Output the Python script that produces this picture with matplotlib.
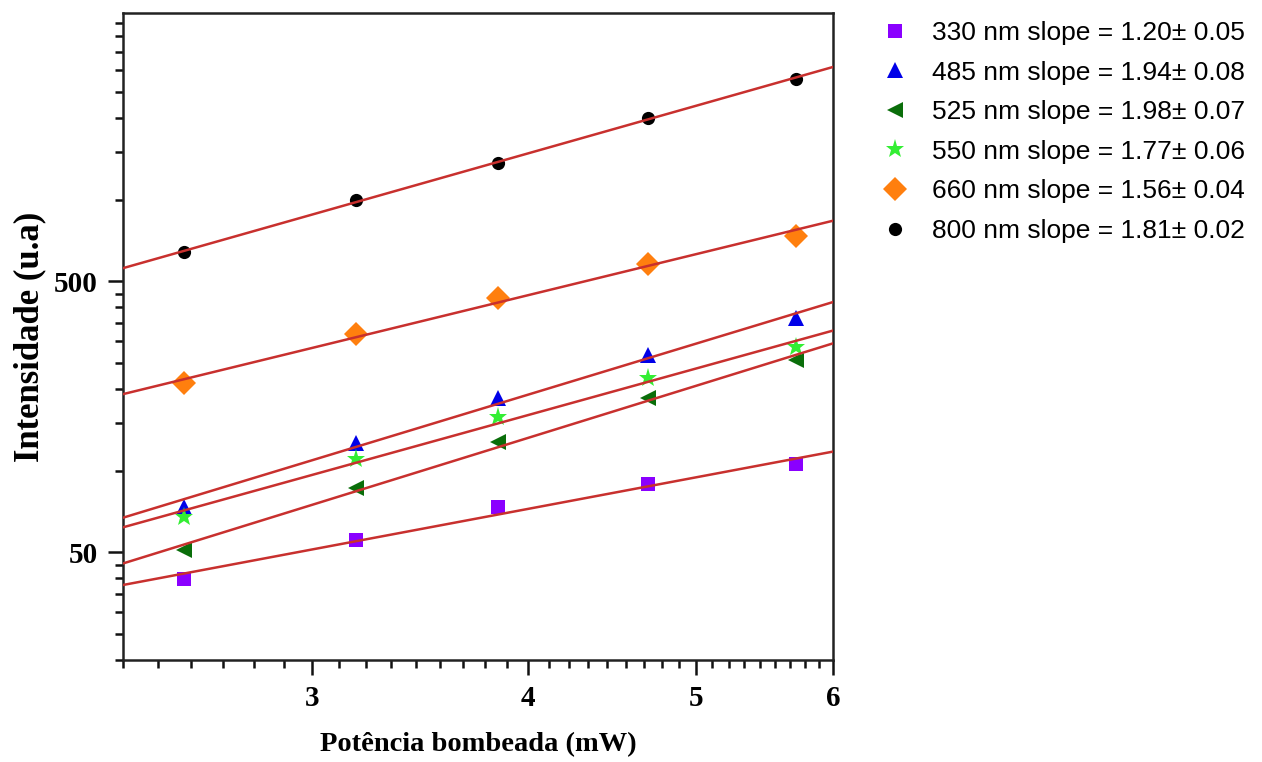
import numpy as np
import matplotlib
matplotlib.use("Agg")
import matplotlib.pyplot as plt
from matplotlib.ticker import FixedLocator, FixedFormatter, NullFormatter

# Pump power (mW) at each measurement
power = [2.53, 3.18, 3.84, 4.69, 5.71]

# Emission intensity (a.u.) for each band
i_330 = [39.8, 55.4, 73.5, 89.1, 105.4]
i_485 = [73.3, 126.0, 185.0, 267.0, 365.0]
i_525 = [50.9, 85.9, 127.6, 184.6, 255.6]
i_550 = [67.3, 110.0, 157.0, 219.0, 285.0]
i_660 = [210.0, 319.0, 434.0, 578.0, 735.0]
i_800 = [640.0, 995.0, 1366.0, 2003.0, 2780.0]

# Fitted slopes and their uncertainties
slopes = [1.20, 1.94, 1.98, 1.77, 1.56, 1.81]
slope_err = [0.05, 0.08, 0.07, 0.06, 0.04, 0.02]
bands = ["330", "485", "525", "550", "660", "800"]

series = [i_330, i_485, i_525, i_550, i_660, i_800]
colors = ["#8a00ff", "#0000e8", "#0a6e0a", "#33ee33", "#ff7f0e", "#000000"]
markers = ["s", "^", "<", "*", "D", "o"]
msizes = [9.5, 12, 12, 14, 12.5, 9.5]

fig = plt.figure(figsize=(12.62, 7.62), dpi=100)
ax = fig.add_axes([123 / 1262, 1 - 660 / 762, 710 / 1262, 647 / 762])
ax.set_xscale("log")
ax.set_yscale("log")
xmin, xmax = 7 / 3, 6.0
ax.set_xlim(xmin, xmax)
ax.set_ylim(20, 4880)

logx = np.log10(power)
xfit = np.array([xmin, xmax])
handles = []
for vals, m, c, s, ms, b, e in zip(series, markers, colors, slopes, msizes, bands, slope_err):
    h, = ax.plot(power, vals, linestyle="none", marker=m, color=c, markersize=ms,
                 markeredgewidth=0, zorder=2,
                 label=f"{b} nm slope = {s:.2f}\u00b1 {e:.2f}")
    handles.append(h)
    # line of the stated slope through the data (least squares intercept)
    b0 = np.mean(np.log10(vals) - s * logx)
    ax.plot(xfit, 10 ** (b0 + s * np.log10(xfit)), color="#c8302e", lw=1.8, zorder=3)

# Axis ticks
ax.xaxis.set_major_locator(FixedLocator([3, 4, 5, 6]))
ax.xaxis.set_major_formatter(FixedFormatter(["3", "4", "5", "6"]))
xminor = [n + k / 9 for n in range(2, 6) for k in range(1, 9)]
ax.xaxis.set_minor_locator(FixedLocator([v for v in xminor if v >= xmin - 1e-9]))
ax.xaxis.set_minor_formatter(NullFormatter())

ax.yaxis.set_major_locator(FixedLocator([50, 500]))
ax.yaxis.set_major_formatter(FixedFormatter(["50", "500"]))
yminor = list(range(20, 50, 5)) + list(range(100, 500, 50)) + list(range(1000, 5000, 500))
ax.yaxis.set_minor_locator(FixedLocator(yminor))
ax.yaxis.set_minor_formatter(NullFormatter())

ax.tick_params(which="both", direction="out", top=False, right=False, width=1.8, color="#111111")
ax.tick_params(which="major", length=11)
ax.tick_params(which="minor", length=6)
ax.tick_params(axis="x", which="major", pad=7)
ax.tick_params(axis="y", which="major", pad=7)
for lab in ax.get_xticklabels() + ax.get_yticklabels():
    lab.set_fontfamily("Liberation Serif")
    lab.set_fontweight("bold")
    lab.set_fontsize(21)
for sp in ax.spines.values():
    sp.set_linewidth(1.8)
    sp.set_color("#222222")

fig.text(30 / 1262, 1 - 337 / 762, "Intensidade (u.a)", rotation=90, ha="center", va="center",
         fontfamily="Liberation Serif", fontweight="bold", fontsize=25)
fig.text(478 / 1262, 1 - 745 / 762, "Potência bombeada (mW)", ha="center", va="center",
         fontfamily="Liberation Serif", fontweight="bold", fontsize=20.5)

leg = fig.legend(handles=handles, loc="upper left", bbox_to_anchor=(882 / 1262, 1 - 21 / 762),
                 frameon=False, numpoints=1, handlelength=1.0, handletextpad=0.9,
                 borderpad=0.0, borderaxespad=0.0,
                 labelspacing=0.59, prop={"family": "Liberation Sans", "size": 19})

fig.savefig("out.png", dpi=100)
